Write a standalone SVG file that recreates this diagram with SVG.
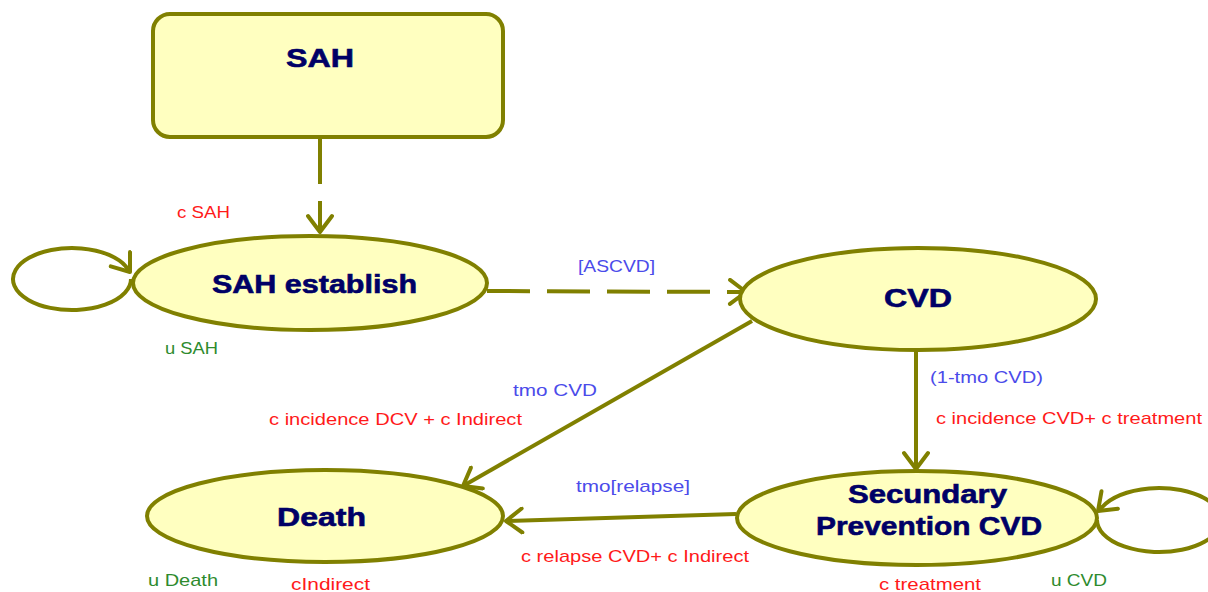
<svg xmlns="http://www.w3.org/2000/svg" width="1208" height="592" viewBox="0 0 1208 592">
<style>
.node{fill:#ffffc0;stroke:#808000;stroke-width:4}
.nt{font-family:"Liberation Sans",Arial,sans-serif;font-weight:bold;font-size:26px;fill:#000066;stroke:#000066;stroke-width:0.6}
.edge{fill:none;stroke:#808000;stroke-width:4}
.lb{font-family:"Liberation Sans",Arial,sans-serif;font-size:17px}
.blue{fill:#4b4bea}
.red{fill:#ff1a1a}
.green{fill:#2e8b2e}
</style>
<defs>
<marker id="arr" viewBox="0 0 22 28" refX="19" refY="14" markerWidth="22" markerHeight="28" markerUnits="userSpaceOnUse" orient="auto">
<path d="M3,2 L19,14 L3,26" fill="none" stroke="#808000" stroke-width="4" stroke-linecap="round" stroke-linejoin="round"/>
</marker>
</defs>
<rect width="1208" height="592" fill="#ffffff"/>
<g id="connectors">
<path class="edge" d="M320,139 L320,232" stroke-dasharray="45,17" marker-end="url(#arr)"/>
<path class="edge" d="M487,291 L746,292" stroke-dasharray="43,17" marker-end="url(#arr)"/>
<path class="edge" d="M752,321 L463,486" marker-end="url(#arr)"/>
<path class="edge" d="M916,351 L916,469" marker-end="url(#arr)"/>
<path class="edge" d="M736,514 L506,521" marker-end="url(#arr)"/>
<path class="edge" d="M131,279 A59 31 0 1 1 125.5,266 L130,272" marker-end="url(#arr)"/>
<path class="edge" d="M1097,520 A62 32 0 1 0 1102.8,506.5 L1098,511" marker-end="url(#arr)"/>
</g>
<g id="node-sah">
<rect class="node" x="153" y="14" width="350" height="123" rx="17" ry="17"/>
<text class="nt" x="286" y="67" textLength="68" lengthAdjust="spacingAndGlyphs">SAH</text>
</g>
<g id="node-sah-establish">
<ellipse class="node" cx="310" cy="283" rx="177" ry="47"/>
<text class="nt" x="212" y="293" textLength="205" lengthAdjust="spacingAndGlyphs">SAH establish</text>
</g>
<g id="node-cvd">
<ellipse class="node" cx="918" cy="299" rx="178" ry="51"/>
<text class="nt" x="884" y="307" textLength="68" lengthAdjust="spacingAndGlyphs">CVD</text>
</g>
<g id="node-death">
<ellipse class="node" cx="325" cy="516" rx="178" ry="46"/>
<text class="nt" x="277" y="526" textLength="89" lengthAdjust="spacingAndGlyphs">Death</text>
</g>
<g id="node-secundary">
<ellipse class="node" cx="917" cy="518" rx="180" ry="47"/>
<text class="nt" x="848" y="503" textLength="159" lengthAdjust="spacingAndGlyphs">Secundary</text>
<text class="nt" x="816" y="535" textLength="226" lengthAdjust="spacingAndGlyphs">Prevention CVD</text>
</g>
<g id="labels">
<text class="lb red" x="177" y="218" textLength="53" lengthAdjust="spacingAndGlyphs">c SAH</text>
<text class="lb green" x="165" y="354" textLength="53" lengthAdjust="spacingAndGlyphs">u SAH</text>
<text class="lb blue" x="578" y="272" textLength="77" lengthAdjust="spacingAndGlyphs">[ASCVD]</text>
<text class="lb blue" x="513" y="396" textLength="84" lengthAdjust="spacingAndGlyphs">tmo CVD</text>
<text class="lb red" x="269" y="425" textLength="253" lengthAdjust="spacingAndGlyphs">c incidence DCV + c Indirect</text>
<text class="lb blue" x="930" y="383" textLength="113" lengthAdjust="spacingAndGlyphs">(1-tmo CVD)</text>
<text class="lb red" x="936" y="424" textLength="266" lengthAdjust="spacingAndGlyphs">c incidence CVD+ c treatment</text>
<text class="lb blue" x="576" y="492" textLength="114" lengthAdjust="spacingAndGlyphs">tmo[relapse]</text>
<text class="lb red" x="521" y="562" textLength="228" lengthAdjust="spacingAndGlyphs">c relapse CVD+ c Indirect</text>
<text class="lb green" x="148" y="586" textLength="70" lengthAdjust="spacingAndGlyphs">u Death</text>
<text class="lb red" x="291" y="590" textLength="79" lengthAdjust="spacingAndGlyphs">cIndirect</text>
<text class="lb red" x="879" y="590" textLength="102" lengthAdjust="spacingAndGlyphs">c treatment</text>
<text class="lb green" x="1051" y="586" textLength="56" lengthAdjust="spacingAndGlyphs">u CVD</text>
</g>
</svg>
